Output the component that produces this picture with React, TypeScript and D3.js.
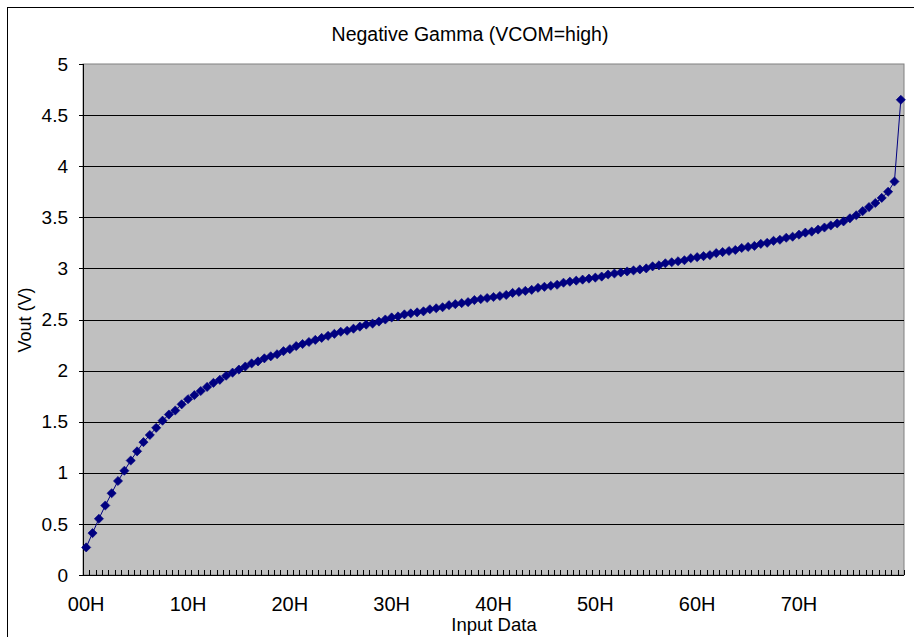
import React from "react";
import * as d3 from "d3";

const title = "Negative Gamma (VCOM=high)";
const xAxisTitle = "Input Data";
const yAxisTitle = "Vout (V)";

// Vout for input codes 00H..80H
const vout: number[] = [
  0.27, 0.41, 0.55, 0.68, 0.80, 0.92, 1.02, 1.12, 1.21, 1.30,
  1.37, 1.44, 1.51, 1.57, 1.61, 1.67, 1.72, 1.76, 1.80, 1.84,
  1.88, 1.91, 1.95, 1.98, 2.01, 2.04, 2.07, 2.09, 2.12, 2.14,
  2.16, 2.19, 2.21, 2.24, 2.26, 2.28, 2.30, 2.32, 2.34, 2.36,
  2.38, 2.39, 2.41, 2.43, 2.45, 2.46, 2.48, 2.50, 2.52, 2.53,
  2.55, 2.56, 2.57, 2.58, 2.60, 2.61, 2.62, 2.64, 2.65, 2.66,
  2.67, 2.69, 2.70, 2.71, 2.72, 2.73, 2.74, 2.76, 2.77, 2.78,
  2.79, 2.81, 2.82, 2.83, 2.84, 2.86, 2.87, 2.88, 2.89, 2.90,
  2.91, 2.92, 2.94, 2.95, 2.96, 2.97, 2.98, 2.99, 3.00, 3.02,
  3.03, 3.05, 3.06, 3.07, 3.08, 3.10, 3.11, 3.12, 3.13, 3.15,
  3.16, 3.17, 3.18, 3.20, 3.21, 3.22, 3.24, 3.25, 3.27, 3.28,
  3.30, 3.31, 3.33, 3.35, 3.36, 3.38, 3.40, 3.42, 3.44, 3.46,
  3.49, 3.52, 3.56, 3.60, 3.64, 3.69, 3.75, 3.85, 4.65,
];

const categories: string[] = vout.map((_, i) =>
  i.toString(16).toUpperCase().padStart(2, "0") + "H"
);

const xTickLabels = ["00H", "10H", "20H", "30H", "40H", "50H", "60H", "70H"];
const yTicks = [0, 0.5, 1, 1.5, 2, 2.5, 3, 3.5, 4, 4.5, 5];

const W = 914;
const H = 637;
const plot = { left: 83, right: 904, top: 64, bottom: 575 };
const font = "'Liberation Sans', Arial, sans-serif";
const navy = "#000080";

export default function App() {
  const x = d3
    .scaleBand<string>()
    .domain(categories)
    .range([plot.left, plot.right])
    .paddingInner(0)
    .paddingOuter(0);
  const y = d3.scaleLinear().domain([0, 5]).range([plot.bottom, plot.top]);
  const cx = (c: string) => (x(c) as number) + x.bandwidth() / 2;

  const line = d3
    .line<number>()
    .x((_, i) => cx(categories[i]))
    .y((d) => y(d));

  const marker = d3.symbol().type(d3.symbolSquare).size(42)();

  const boundaries = categories.map((c) => x(c) as number).concat([plot.right]);

  return (
    <svg
      width={W}
      height={H}
      style={{ position: "absolute", left: 0, top: 0, background: "#fff" }}
    >
      <rect x={7.5} y={7.5} width={930} height={660} fill="#fff" stroke="#000" strokeWidth={1} />
      <text x={470} y={41} textAnchor="middle" fontFamily={font} fontSize={19.5} fill="#000">
        {title}
      </text>

      <rect
        x={plot.left}
        y={plot.top}
        width={plot.right - plot.left}
        height={plot.bottom - plot.top}
        fill="#C0C0C0"
        stroke="#808080"
        strokeWidth={1}
      />

      {yTicks
        .filter((t) => t > 0 && t < 5)
        .map((t) => (
          <line
            key={"g" + t}
            x1={plot.left}
            x2={plot.right}
            y1={Math.round(y(t)) + 0.5}
            y2={Math.round(y(t)) + 0.5}
            stroke="#000"
            strokeWidth={1}
          />
        ))}

      {/* axes */}
      <line x1={plot.left + 0.5} x2={plot.left + 0.5} y1={plot.top} y2={plot.bottom} stroke="#000" />
      <line x1={plot.left} x2={plot.right} y1={plot.bottom + 0.5} y2={plot.bottom + 0.5} stroke="#000" />
      {yTicks.map((t) => (
        <line
          key={"yt" + t}
          x1={plot.left - 4}
          x2={plot.left}
          y1={Math.round(y(t)) + 0.5}
          y2={Math.round(y(t)) + 0.5}
          stroke="#000"
        />
      ))}
      {boundaries.map((b, i) => (
        <line
          key={"xt" + i}
          x1={Math.round(b) + 0.5}
          x2={Math.round(b) + 0.5}
          y1={plot.bottom - 5}
          y2={plot.bottom}
          stroke="#000"
        />
      ))}

      {yTicks.map((t) => (
        <text
          key={"yl" + t}
          x={68}
          y={y(t)}
          dy="0.35em"
          textAnchor="end"
          fontFamily={font}
          fontSize={19}
          fill="#000"
        >
          {String(t)}
        </text>
      ))}
      {xTickLabels.map((l) => (
        <text
          key={"xl" + l}
          x={cx(l)}
          y={611}
          textAnchor="middle"
          fontFamily={font}
          fontSize={20}
          fill="#000"
        >
          {l}
        </text>
      ))}
      <text x={494} y={631} textAnchor="middle" fontFamily={font} fontSize={18.5} fill="#000">
        {xAxisTitle}
      </text>
      <text
        transform={`translate(31, 320) rotate(-90)`}
        textAnchor="middle"
        fontFamily={font}
        fontSize={18}
        fill="#000"
      >
        {yAxisTitle}
      </text>

      <path d={line(vout) || ""} fill="none" stroke={navy} strokeWidth={1} />
      {vout.map((v, i) => (
        <path
          key={"m" + i}
          d={marker || ""}
          transform={`translate(${cx(categories[i])},${y(v)}) rotate(45)`}
          fill={navy}
          stroke={navy}
          strokeWidth={0.6}
        />
      ))}
    </svg>
  );
}
